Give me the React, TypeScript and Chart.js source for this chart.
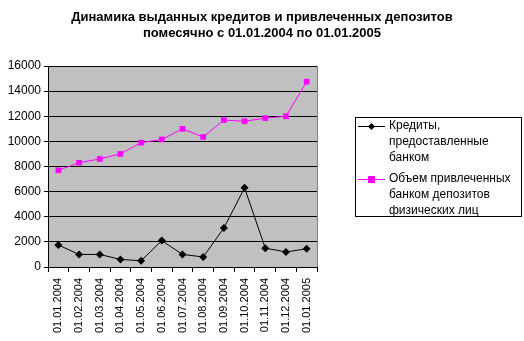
import React, { useEffect, useRef } from "react";
import { Chart, registerables } from "chart.js";

Chart.register(...registerables);

const categories = [
  "01.01.2004", "01.02.2004", "01.03.2004", "01.04.2004", "01.05.2004",
  "01.06.2004", "01.07.2004", "01.08.2004", "01.09.2004", "01.10.2004",
  "01.11.2004", "01.12.2004", "01.01.2005",
];
const credits = [1750, 1000, 1000, 600, 500, 2100, 1000, 800, 3100, 6300, 1500, 1200, 1450];
const deposits = [7700, 8300, 8600, 9000, 9900, 10150, 11000, 10350, 11700, 11600, 11850, 12000, 14750];
const titleLines = [
  "Динамика выданных кредитов и привлеченных депозитов",
  "помесячно с 01.01.2004 по 01.01.2005",
];
const legendCredits = ["Кредиты,", "предоставленные", "банком"];
const legendDeposits = ["Объем привлеченных", "банком депозитов", "физических лиц"];

const FONT = "Arial, 'Liberation Sans', sans-serif";

const bgPlugin = {
  id: "plotBg",
  beforeDraw(chart: any) {
    const { ctx, chartArea: a } = chart;
    ctx.save();
    ctx.fillStyle = "#C0C0C0";
    ctx.fillRect(a.left, a.top, a.right - a.left, a.bottom - a.top);
    ctx.strokeStyle = "#808080";
    ctx.lineWidth = 1;
    ctx.beginPath();
    ctx.moveTo(a.left, a.top + 0.5);
    ctx.lineTo(a.right + 0.5, a.top + 0.5);
    ctx.lineTo(a.right + 0.5, a.bottom);
    ctx.stroke();
    ctx.restore();
  },
};

const titlePlugin = {
  id: "customTitle",
  afterDraw(chart: any) {
    const ctx = chart.ctx;
    ctx.save();
    ctx.font = `bold 13px ${FONT}`;
    ctx.fillStyle = "#000000";
    ctx.textAlign = "center";
    ctx.textBaseline = "middle";
    const targets = [374, 234];
    titleLines.forEach((t, i) => {
      (ctx as any).letterSpacing = "0px";
      const w = ctx.measureText(t).width;
      const ls = Math.max(0, (targets[i] - w) / t.length);
      (ctx as any).letterSpacing = `${ls.toFixed(2)}px`;
      ctx.fillText(t, 262 + ls / 2, 17 + i * 16);
    });
    (ctx as any).letterSpacing = "0px";
    ctx.restore();
  },
};

const legendPlugin = {
  id: "customLegend",
  afterDraw(chart: any) {
    const ctx = chart.ctx;
    const x0 = 355, y0 = 117, w = 166, h = 99;
    ctx.save();
    ctx.fillStyle = "#FFFFFF";
    ctx.fillRect(x0, y0, w, h);
    ctx.strokeStyle = "#000000";
    ctx.lineWidth = 1;
    ctx.strokeRect(x0 + 0.5, y0 + 0.5, w, h);
    ctx.font = `12px ${FONT}`;
    ctx.textBaseline = "middle";
    ctx.fillStyle = "#000000";
    const lh = 16;
    const drawEntry = (lines: string[], y: number, color: string, style: string) => {
      ctx.strokeStyle = color;
      ctx.beginPath();
      ctx.moveTo(358, y + 0.5);
      ctx.lineTo(385, y + 0.5);
      ctx.stroke();
      ctx.fillStyle = color;
      const cx = 371.5, cy = y + 0.5;
      if (style === "diamond") {
        ctx.beginPath();
        ctx.moveTo(cx, cy - 3.5);
        ctx.lineTo(cx + 3.5, cy);
        ctx.lineTo(cx, cy + 3.5);
        ctx.lineTo(cx - 3.5, cy);
        ctx.closePath();
        ctx.fill();
      } else {
        ctx.fillRect(cx - 3.5, cy - 3.5, 7, 7);
      }
      ctx.fillStyle = "#000000";
      lines.forEach((t, i) => ctx.fillText(t, 389, y + i * lh));
    };
    drawEntry(legendCredits, 126, "#000000", "diamond");
    drawEntry(legendDeposits, 179, "#FF00FF", "square");
    ctx.restore();
  },
};

export default function App() {
  const ref = useRef<HTMLCanvasElement>(null);
  useEffect(() => {
    if (!ref.current) return;
    const chart = new Chart(ref.current, {
      type: "line",
      data: {
        labels: categories,
        datasets: [
          {
            label: "Кредиты, предоставленные банком",
            data: credits,
            borderColor: "#000000",
            backgroundColor: "#000000",
            borderWidth: 1,
            pointStyle: "rectRot",
            pointRadius: 4,
            pointBorderWidth: 0,
            tension: 0,
          },
          {
            label: "Объем привлеченных банком депозитов физических лиц",
            data: deposits,
            borderColor: "#FF00FF",
            backgroundColor: "#FF00FF",
            borderWidth: 1,
            pointStyle: "rect",
            pointRadius: 4,
            pointBorderWidth: 0,
            tension: 0,
          },
        ],
      },
      options: {
        animation: false,
        responsive: false,
        maintainAspectRatio: false,
        layout: { padding: { left: 0, right: 207, top: 66, bottom: 0 } },
        plugins: {
          legend: { display: false },
          tooltip: { enabled: false },
          title: { display: false },
        },
        scales: {
          x: {
            offset: true,
            grid: {
              offset: true,
              drawOnChartArea: false,
              drawTicks: true,
              tickLength: 5,
              color: "#000000",
            },
            border: { color: "#000000", width: 1 },
            ticks: {
              color: "#000000",
              font: { family: FONT, size: 11 },
              maxRotation: 90,
              minRotation: 90,
              autoSkip: false,
              padding: 6,
            },
            afterFit(scale: any) {
              scale.height = 74;
            },
          },
          y: {
            min: 0,
            max: 16000,
            grid: {
              color: "#000000",
              drawTicks: true,
              tickLength: 4,
            },
            border: { color: "#000000", width: 1 },
            ticks: {
              stepSize: 2000,
              color: "#000000",
              font: { family: FONT, size: 12 },
              padding: 3,
              callback: (v: any) => String(v),
            },
            afterFit(scale: any) {
              scale.width = 48;
            },
          },
        },
      },
      plugins: [bgPlugin, titlePlugin, legendPlugin],
    });
    return () => chart.destroy();
  }, []);
  return (
    <div style={{ position: "fixed", left: 0, top: 0, width: 524, height: 341, background: "#fff" }}>
      <canvas ref={ref} width={524} height={341} style={{ width: 524, height: 341 }} />
    </div>
  );
}
